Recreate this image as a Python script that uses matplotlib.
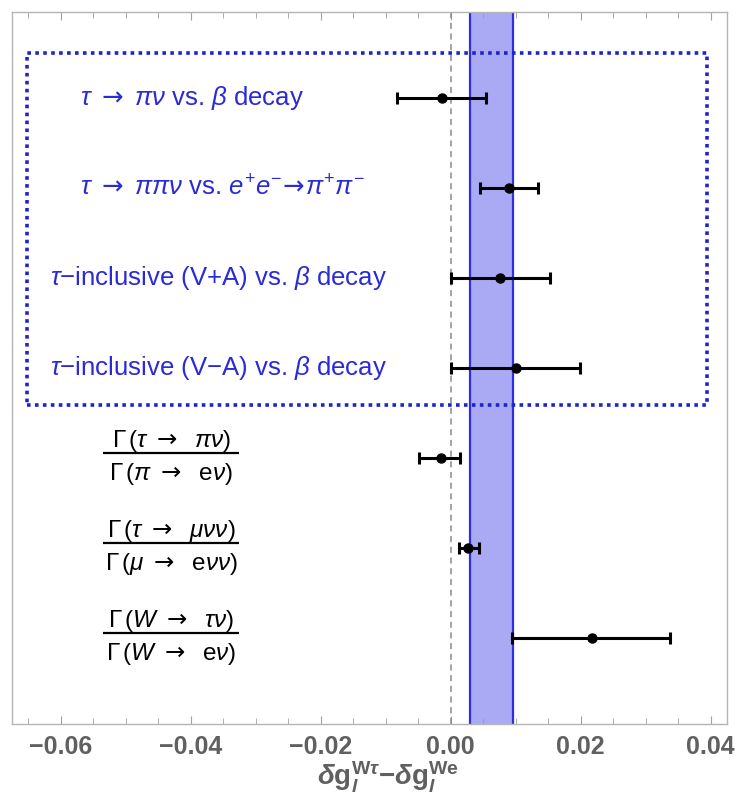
import numpy as np
import matplotlib
matplotlib.use("Agg")
import matplotlib.pyplot as plt
from matplotlib.patches import Rectangle

# -------------------------------
# Data
# -------------------------------

rows = [7, 6, 5, 4, 3, 2, 1]

centers = [-0.0014, 0.0090, 0.0076, 0.0100, -0.0015, 0.0026, 0.0217]
lower = [-0.0082, 0.0045, 0.0000, 0.0000, -0.0049, 0.0012, 0.0095]
upper = [0.0054, 0.0135, 0.0152, 0.0199, 0.0015, 0.0043, 0.0337]

band_lo = 0.0029
band_hi = 0.0096

AR = r"\mathsf{\rightarrow}"

blue_labels = [
    r"$\tau\ " + AR + r"\ \pi\nu$ vs. $\beta$ decay",
    r"$\tau\ " + AR + r"\ \pi\pi\nu$ vs. $e^{+}e^{-}\!" + AR + r"\!\pi^{+}\pi^{-}$",
    r"$\tau$−inclusive (V+A) vs. $\beta$ decay",
    r"$\tau$−inclusive (V−A) vs. $\beta$ decay",
]
blue_x = [-0.0571, -0.0571, -0.0617, -0.0617]

frac_num = [
    r"$\Gamma\,(\tau\ " + AR + r"\ \ \pi\nu)$",
    r"$\Gamma\,(\tau\ " + AR + r"\ \ \mu\nu\nu)$",
    r"$\Gamma\,(W\ " + AR + r"\ \ \tau\nu)$",
]
frac_den = [
    r"$\Gamma\,(\pi\ " + AR + r"\ \ \mathrm{e}\nu)$",
    r"$\Gamma\,(\mu\ " + AR + r"\ \ \mathrm{e}\nu\nu)$",
    r"$\Gamma\,(W\ " + AR + r"\ \ \mathrm{e}\nu)$",
]

xticks = [-0.06, -0.04, -0.02, 0.00, 0.02, 0.04]

# -------------------------------
# Style
# -------------------------------

plt.rcParams['font.family'] = ['Liberation Sans', 'DejaVu Sans']
plt.rcParams['mathtext.fontset'] = 'custom'
plt.rcParams['mathtext.rm'] = 'Liberation Sans'
plt.rcParams['mathtext.it'] = 'Liberation Sans:italic'
plt.rcParams['mathtext.bf'] = 'Liberation Sans:bold'
plt.rcParams['mathtext.bfit'] = 'Liberation Sans:italic:bold'
plt.rcParams['mathtext.sf'] = 'DejaVu Sans'

blue = '#2a2ad6'
gray = '#606060'

fig = plt.figure(figsize=(7.38, 7.96), dpi=100)
ax = fig.add_axes([0.01626, 0.09045, 0.96883, 0.89447])

# band and zero line
ax.axvspan(band_lo, band_hi, facecolor='#aaaaf4', edgecolor='none', zorder=1)
ax.axvline(band_lo, color='#2f2fe0', lw=1.6, zorder=2)
ax.axvline(band_hi, color='#2f2fe0', lw=1.6, zorder=2)
ax.axvline(0.0, color='#8a8a8a', lw=1.1, ls=(0, (4, 3)), zorder=2)

# error bars
c = np.array(centers)
xerr = np.vstack([c - np.array(lower), np.array(upper) - c])
ax.errorbar(c, rows, xerr=xerr, fmt='o', color='black', ms=6.5,
            elinewidth=2.2, capsize=4, capthick=2.2, zorder=5)

# dotted box round the first four rows
box = Rectangle((-0.0652, 3.59), 0.0394 + 0.0652, 7.5 - 3.59,
                fill=False, edgecolor='#2222cc', lw=2.6, ls=(0, (1, 1.2)),
                zorder=4)
ax.add_patch(box)

# row labels
for lab, x, y in zip(blue_labels, blue_x, rows[:4]):
    ax.text(x, y, lab, color=blue, fontsize=18.5, ha='left', va='center')

for num, den, y in zip(frac_num, frac_den, rows[4:]):
    ax.text(-0.0430, y + 0.19, num, fontsize=17.5, ha='center', va='center')
    ax.text(-0.0430, y - 0.18, den, fontsize=17.5, ha='center', va='center')
    ax.plot([-0.0535, -0.0325], [y + 0.055, y + 0.055], color='black',
            lw=1.6, solid_capstyle='butt')

# axes
ax.set_xlim(-0.0675, 0.0425)
ax.set_ylim(0.044, 7.956)
ax.set_yticks([])
ax.set_xticks(xticks)
ax.set_xticklabels(["{:.2f}".format(t).replace('-', '\u2212') for t in xticks],
                   fontsize=18, fontweight='bold', color=gray)
ax.set_xticks(np.arange(-0.065, 0.0426, 0.005), minor=True)
ax.tick_params(axis='x', which='both', direction='in', top=True,
               color='#a0a0a0', pad=8)
ax.tick_params(axis='x', which='major', length=6)
ax.tick_params(axis='x', which='minor', length=4)
for s in ax.spines.values():
    s.set_color('#b5b5b5')
    s.set_linewidth(1.0)

ax.set_xlabel(r"$\mathbfit{\delta}\mathbf{g}_{\mathbfit{l}}^{\mathbf{W}\mathbfit{\tau}}"
              r"\mathbf{-}\mathbfit{\delta}\mathbf{g}_{\mathbfit{l}}^{\mathbf{We}}$",
              fontsize=20, color=gray)
ax.xaxis.set_label_coords(0.526, -0.050)

fig.savefig("out.png", dpi=100, facecolor='white')
